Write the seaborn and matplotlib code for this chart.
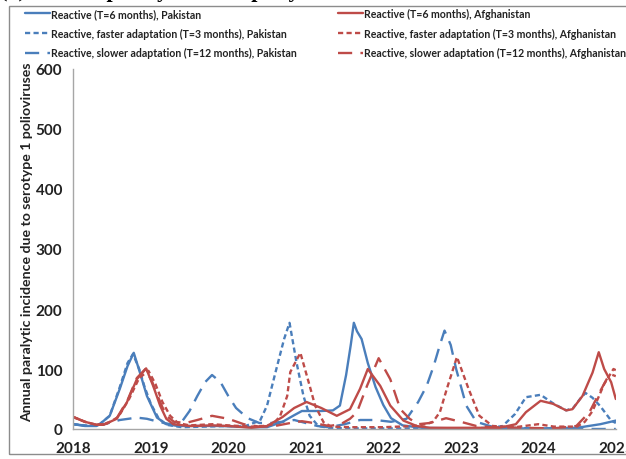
import numpy as np
import pandas as pd
import matplotlib
matplotlib.use("Agg")
import matplotlib.pyplot as plt
from matplotlib.lines import Line2D
from matplotlib.patches import Rectangle
import seaborn as sns

# ---------------- data ----------------
pk_t6_x = [2018.0, 2018.15, 2018.3, 2018.34, 2018.47, 2018.6, 2018.7, 2018.78, 2018.86, 2018.95,
           2019.08, 2019.2, 2019.35, 2019.6, 2019.9, 2020.1, 2020.3, 2020.5, 2020.7, 2020.85,
           2020.95, 2021.2, 2021.35, 2021.44, 2021.52, 2021.58, 2021.62, 2021.66, 2021.72, 2021.8,
           2021.9, 2022.0, 2022.1, 2022.25, 2022.5, 2023.0, 2023.5, 2024.0, 2024.5, 2024.8, 2025.0]
pk_t6_y = [8, 5, 5, 8, 22, 67, 105, 127, 94, 55,
           19, 8, 5, 5, 5, 4, 3, 3, 12, 23,
           30, 30, 31, 39, 90, 140, 177, 163, 150, 110,
           70, 40, 18, 6, 2, 1, 1, 1, 2, 8, 14]

pk_t3_x = [2018.0, 2018.2, 2018.34, 2018.47, 2018.6, 2018.7, 2018.77, 2018.85, 2018.92, 2019.0,
           2019.1, 2019.2, 2019.4, 2019.7, 2020.0, 2020.2, 2020.41, 2020.5, 2020.62, 2020.72,
           2020.79, 2020.88, 2020.97, 2021.05, 2021.16, 2021.3, 2021.6, 2022.0, 2022.5, 2023.0,
           2023.4, 2023.54, 2023.7, 2023.84, 2024.03, 2024.2, 2024.36, 2024.45, 2024.55, 2024.61,
           2024.7, 2024.8, 2024.94, 2025.0]
pk_t3_y = [8, 5, 8, 22, 70, 110, 125, 100, 70, 42,
           18, 7, 3, 4, 5, 4, 14, 39, 100, 150,
           177, 111, 55, 22, 5, 2, 1, 1, 1, 1,
           2, 5, 25, 53, 57, 42, 31, 35, 52, 60,
           52, 38, 14, 10]

pk_t12_x = [2018.0, 2018.2, 2018.4, 2018.6, 2018.82, 2018.95, 2019.1, 2019.25, 2019.4, 2019.5,
            2019.6, 2019.7, 2019.79, 2019.9, 2020.0, 2020.1, 2020.25, 2020.4, 2020.55, 2020.7,
            2020.85, 2021.0, 2021.15, 2021.3, 2021.5, 2021.7, 2021.9, 2022.1, 2022.3, 2022.45,
            2022.56, 2022.65, 2022.73, 2022.79, 2022.87, 2022.94, 2023.07, 2023.2, 2023.4, 2023.6,
            2024.0, 2024.5, 2025.0]
pk_t12_y = [8, 5, 8, 15, 19, 17, 12, 8, 12, 30,
            55, 78, 90, 78, 55, 35, 18, 10, 10, 12,
            15, 10, 5, 3, 8, 15, 15, 12, 17, 45,
            72, 105, 140, 164, 140, 100, 39, 12, 4, 2,
            1, 0, 0]

af_t6_x = [2018.0, 2018.15, 2018.3, 2018.39, 2018.56, 2018.69, 2018.82, 2018.94, 2019.03, 2019.12,
           2019.2, 2019.29, 2019.5, 2019.8, 2020.0, 2020.3, 2020.5, 2020.7, 2020.85, 2021.01,
           2021.2, 2021.4, 2021.57, 2021.7, 2021.8, 2021.96, 2022.09, 2022.26, 2022.43, 2022.6,
           2023.0, 2023.5, 2023.71, 2023.84, 2024.03, 2024.19, 2024.36, 2024.44, 2024.57, 2024.7,
           2024.78, 2024.85, 2024.94, 2025.0]
af_t6_y = [20, 12, 7, 7, 17, 44, 83, 101, 72, 39,
           17, 8, 5, 6, 5, 2, 5, 20, 35, 45,
           35, 22, 33, 67, 100, 72, 39, 14, 5, 2,
           2, 2, 8, 28, 47, 42, 31, 33, 55, 94,
           128, 100, 78, 50]

af_t3_x = [2018.0, 2018.15, 2018.3, 2018.42, 2018.58, 2018.72, 2018.85, 2018.97, 2019.06, 2019.15,
           2019.25, 2019.35, 2019.5, 2019.8, 2020.0, 2020.3, 2020.45, 2020.58, 2020.67, 2020.76,
           2020.8, 2020.93, 2021.05, 2021.12, 2021.23, 2021.33, 2021.6, 2022.0, 2022.4, 2022.55,
           2022.64, 2022.73, 2022.82, 2022.95, 2023.1, 2023.24, 2023.41, 2023.7, 2024.0, 2024.2,
           2024.5, 2024.6, 2024.7, 2024.85, 2024.97, 2025.0]
af_t3_y = [20, 12, 7, 8, 20, 50, 85, 97, 75, 45,
           22, 10, 6, 8, 6, 4, 5, 8, 22, 55,
           95, 127, 72, 39, 11, 4, 3, 3, 5, 8,
           12, 28, 67, 120, 67, 22, 5, 3, 8, 4,
           4, 12, 30, 75, 100, 98]

af_t12_x = [2018.0, 2018.15, 2018.3, 2018.4, 2018.56, 2018.7, 2018.82, 2018.93, 2019.02, 2019.12,
            2019.2, 2019.3, 2019.45, 2019.6, 2019.79, 2020.0, 2020.2, 2020.4, 2020.6, 2020.8,
            2020.95, 2021.1, 2021.3, 2021.45, 2021.57, 2021.66, 2021.79, 2021.94, 2022.09, 2022.22,
            2022.34, 2022.45, 2022.6, 2022.81, 2023.0, 2023.2, 2023.4, 2023.8, 2024.2, 2024.49,
            2024.66, 2024.79, 2024.92, 2025.0]
af_t12_y = [20, 12, 7, 8, 18, 48, 85, 100, 78, 45,
            22, 12, 10, 15, 22, 17, 8, 4, 5, 10,
            13, 10, 5, 8, 17, 28, 72, 118, 83, 33,
            17, 8, 10, 18, 12, 5, 3, 2, 1, 5,
            28, 61, 92, 88]

series_labels = [
    "Reactive (T=6 months), Pakistan",
    "Reactive, faster adaptation (T=3 months), Pakistan",
    "Reactive, slower adaptation (T=12 months), Pakistan",
    "Reactive (T=6 months), Afghanistan",
    "Reactive, faster adaptation (T=3 months), Afghanistan",
    "Reactive, slower adaptation (T=12 months), Afghanistan",
]
series_x = [pk_t6_x, pk_t3_x, pk_t12_x, af_t6_x, af_t3_x, af_t12_x]
series_y = [pk_t6_y, pk_t3_y, pk_t12_y, af_t6_y, af_t3_y, af_t12_y]

y_ticks = [0, 100, 200, 300, 400, 500, 600]
x_ticks = [2018, 2019, 2020, 2021, 2022, 2023, 2024, 2025]

# ---------------- style ----------------
sns.set_theme(style="white")
plt.rcParams['font.family'] = ['Lato', 'DejaVu Sans']

BLUE = "#4a7ebb"
RED = "#be4b48"
colors = [BLUE, BLUE, BLUE, RED, RED, RED]
dash_styles = ["solid", (0, (2.2, 1.4)), (0, (6, 3.5)),
               "solid", (0, (2.2, 1.4)), (0, (6, 3.5))]
LW = 1.7
TXT = '#222222'

W, H = 626, 460
fig = plt.figure(figsize=(W / 100, H / 100), dpi=100)
ax = fig.add_axes([73.3 / W, 1 - 430 / H, (615.8 - 73.3) / W, (430 - 70) / H])

for xs, ys, c, ls, lab in zip(series_x, series_y, colors, dash_styles, series_labels):
    df = pd.DataFrame({"year": xs, "value": ys})
    sns.lineplot(data=df, x="year", y="value", ax=ax, color=c, linestyle=ls,
                 linewidth=LW, legend=False, estimator=None)

ax.set_xlim(2018, 2025)
ax.set_ylim(0, 600)
ax.set_xticks(x_ticks)
ax.set_xticklabels([str(t) for t in x_ticks], fontsize=11, fontweight='bold', color=TXT)
ax.set_yticks(y_ticks)
ax.set_yticklabels([str(t) for t in y_ticks], fontsize=11, fontweight='bold', color=TXT)
ax.set_xlabel("")
ax.set_ylabel("Annual paralytic incidence due to serotype 1 polioviruses",
              fontsize=10.2, fontweight='bold', color=TXT)
ax.yaxis.set_label_coords((33 - 73.3) / (615.8 - 73.3), (430 - 242) / 360)

for s in ["top", "right"]:
    ax.spines[s].set_visible(False)
for s in ["left", "bottom"]:
    ax.spines[s].set_color("#a6a6a6")
    ax.spines[s].set_linewidth(1.0)
ax.tick_params(axis='both', which='major', direction='out', length=5, width=1.0,
               color='#a6a6a6', pad=3)
ax.tick_params(axis='x', pad=4)
ax.grid(False)

# legends (two columns, placed separately)
handles = [Line2D([0], [0], color=c, linestyle=ls, linewidth=LW)
           for c, ls in zip(colors, dash_styles)]
leg_kw = dict(loc='upper left', frameon=False, prop={'size': 7.6, 'weight': 'bold'},
              handlelength=2.4, handletextpad=0.1, labelspacing=0.82, borderaxespad=0,
              borderpad=0)
leg1 = fig.legend(handles[:3], series_labels[:3], bbox_to_anchor=(25 / W, 1 - 9 / H), **leg_kw)
leg2 = fig.legend(handles[3:], series_labels[3:], bbox_to_anchor=(338 / W, 1 - 9 / H), **leg_kw)
for lg in (leg1, leg2):
    for t in lg.get_texts():
        t.set_color(TXT)

# title (cut at the top edge, as in the reference)
fig.text(0.0, 1 + 3 / H, "(a) Annual paralytic cases per year", fontsize=16,
         fontweight='bold', family=['Liberation Serif', 'DejaVu Serif'], va='baseline',
         ha='left', color='black')

# chart area border
fig.patches.append(Rectangle((9 / W, 1 - 455 / H), 1.2, (455 - 7) / H,
                             transform=fig.transFigure, fill=False,
                             edgecolor='#8c8c8c', linewidth=1.0))

fig.savefig("out.png", dpi=100)
